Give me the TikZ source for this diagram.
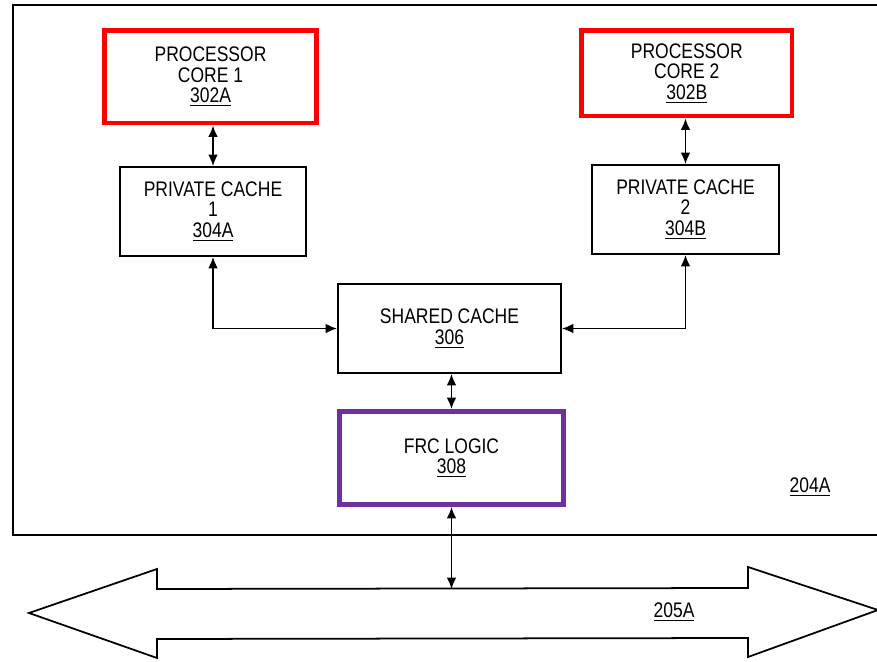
\documentclass[tikz,border=0pt]{standalone}
\usepackage{fontspec}
\setmainfont{Liberation Sans}[FakeStretch=0.83]
\usepackage{tikz}
\usetikzlibrary{arrows.meta, positioning, calc}
\definecolor{corered}{RGB}{255,0,0}
\definecolor{frcpurple}{RGB}{112,48,160}

\begin{document}
\begin{tikzpicture}[
    x=0.02cm, y=-0.02cm,
    unit/.style={draw, line width=1pt, fill=white, align=center,
                 inner sep=2pt, font=\fontsize{12}{11.8}\selectfont,
                 minimum height=1.78cm},
    corebox/.style={unit, draw=corered, line width=2.8pt},
    frcbox/.style={unit, draw=frcpurple, line width=2.8pt},
    arr/.style={{Latex[length=6.5pt,width=5.5pt]}-{Latex[length=6.5pt,width=5.5pt]}, line width=1pt},
    reflabel/.style={font=\fontsize{12}{11.8}\selectfont}
  ]
    \clip (0,0) rectangle (877,662);
    \fill[white] (0,0) rectangle (877,662);

    % chip outline
    \draw[line width=1pt] (13,5) rectangle (900,535);
    \node[reflabel] (chip) at (810,487) {\underline{204A}};

    \node[corebox, minimum width=4.24cm, minimum height=1.85cm] (core1) at (210.5,76.75)
      {PROCESSOR\\CORE 1\\\underline{302A}};
    \node[corebox, minimum width=4.21cm, minimum height=1.71cm] (core2) at (686.75,73.25)
      {PROCESSOR\\CORE 2\\\underline{302B}};

    \node[unit, minimum width=3.72cm] (pc1) at (213,211.5)
      {PRIVATE CACHE\\1\\\underline{304A}};
    \node[unit, minimum width=3.74cm] (pc2) at (685.5,209.5)
      {PRIVATE CACHE\\2\\\underline{304B}};

    \node[unit, minimum width=4.46cm] (shared) at (449.5,328.5)
      {SHARED CACHE\\\underline{306}};
    \node[frcbox, minimum width=4.48cm, minimum height=1.86cm] (frc) at (451.5,458)
      {FRC LOGIC\\\underline{308}};

    % system bus
    \draw[line width=1pt, fill=white]
      (29,613) -- (157,569) -- (157,589) -- (748,588) -- (748,567)
      -- (878,610) -- (748,657) -- (748,638) -- (157,639) -- (157,658) -- cycle;
    \coordinate (bustop) at (452,589);
    \node[reflabel] (bus) at (674,612) {\underline{205A}};

    \draw[arr] (pc1.north) -- (pc1.north |- core1.south);
    \draw[arr] (pc2.north) -- (pc2.north |- core2.south);
    \draw[arr] (pc1.south) |- (shared.west);
    \draw[arr] (pc2.south) |- (shared.east);
    \draw[arr] (shared.south -| frc.north) -- (frc.north);
    \draw[arr] (frc.south) -- (frc.south |- bustop);
\end{tikzpicture}
\end{document}
